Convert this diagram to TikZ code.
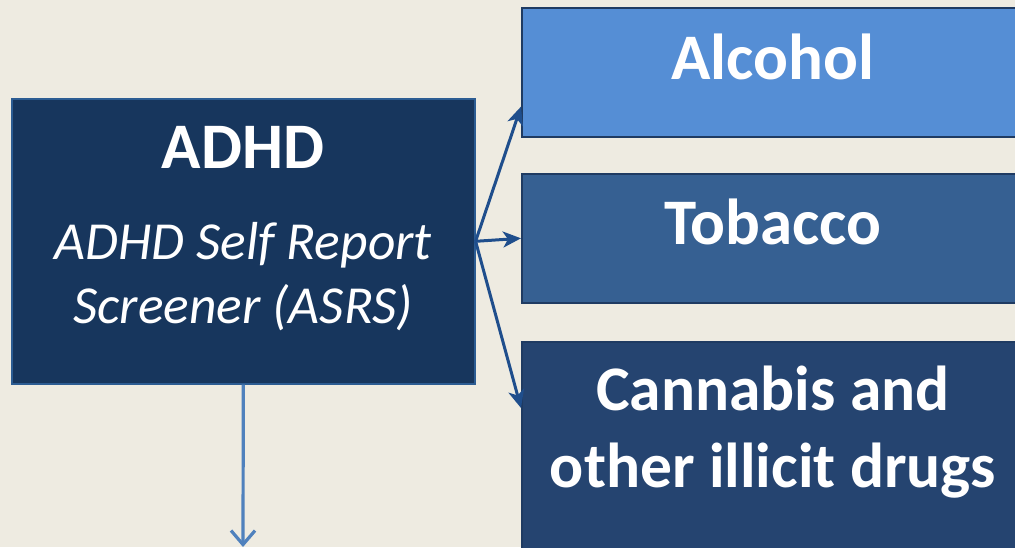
\documentclass[tikz,border=0pt]{standalone}
\usepackage{fontspec}
\setmainfont{Carlito}
\usetikzlibrary{arrows.meta,calc}
\definecolor{bg}{HTML}{EEEBE1}
\definecolor{navy}{HTML}{17365D}
\definecolor{navyborder}{HTML}{2C5C92}
\definecolor{alc}{HTML}{558ED5}
\definecolor{tob}{HTML}{366092}
\definecolor{can}{HTML}{254470}
\definecolor{boxline}{HTML}{1F3B62}
\definecolor{arr}{HTML}{1F4E8C}
\definecolor{downarr}{HTML}{4F81BD}
\tikzset{
  box/.style={rectangle, draw=boxline, line width=1.6pt, inner sep=0pt, anchor=north west},
  lbl/.style={text=white, font=\bfseries, inner sep=0pt},
  sublbl/.style={text=white, font=\itshape, inner sep=0pt, align=center},
  conn/.style={draw=arr, line width=3pt, -{Stealth[length=18pt,width=16pt,inset=5pt]}},
  downconn/.style={draw=downarr, line width=3.2pt, -{Straight Barb[length=14pt,width=24pt,line width=3.2pt]}}
}
\begin{document}
\begin{tikzpicture}[x=1pt,y=-1pt]
\useasboundingbox (0,0) rectangle (1015,547);
\fill[bg] (0,0) rectangle (1015,547);
\clip (0,0) rectangle (1015,547);
% boxes
\node[box, draw=navyborder, fill=navy, minimum width=463pt, minimum height=285pt] (adhd) at (11,98) {};
\node[box, fill=alc, minimum width=510pt, minimum height=129pt] (alc) at (521,7) {};
\node[box, fill=tob, minimum width=510pt, minimum height=129pt] (tob) at (521,173) {};
\node[box, fill=can, minimum width=510pt, minimum height=230pt] (can) at (521,341) {};
% texts
\node[lbl, font=\fontsize{65}{70}\bfseries\selectfont] (t1) at (243,147) {ADHD};
\node[sublbl, font=\fontsize{53.5}{64}\itshape\selectfont] (t2) at (243,277) {ADHD Self Report\\Screener (ASRS)};
\node[lbl, font=\fontsize{65}{70}\bfseries\selectfont] (t3) at (773,57) {Alcohol};
\node[lbl, font=\fontsize{65}{70}\bfseries\selectfont] (t4) at (773,222) {Tobacco};
\node[lbl, align=center, font=\fontsize{63.5}{77}\bfseries\selectfont] (t5) at (773,432) {Cannabis and\\other illicit drugs};
% connectors
\coordinate (alcin) at ([yshift=31pt]alc.south west);
\coordinate (canin) at ([yshift=-67pt]can.north west);
\coordinate (downend) at (243,547);
\draw[conn] (adhd.east) -- (alcin);
\draw[conn] (adhd.east) -- (tob.west);
\draw[conn] (adhd.east) -- (canin);
\draw[downconn] (adhd.south) -- (downend);
\end{tikzpicture}
\end{document}
